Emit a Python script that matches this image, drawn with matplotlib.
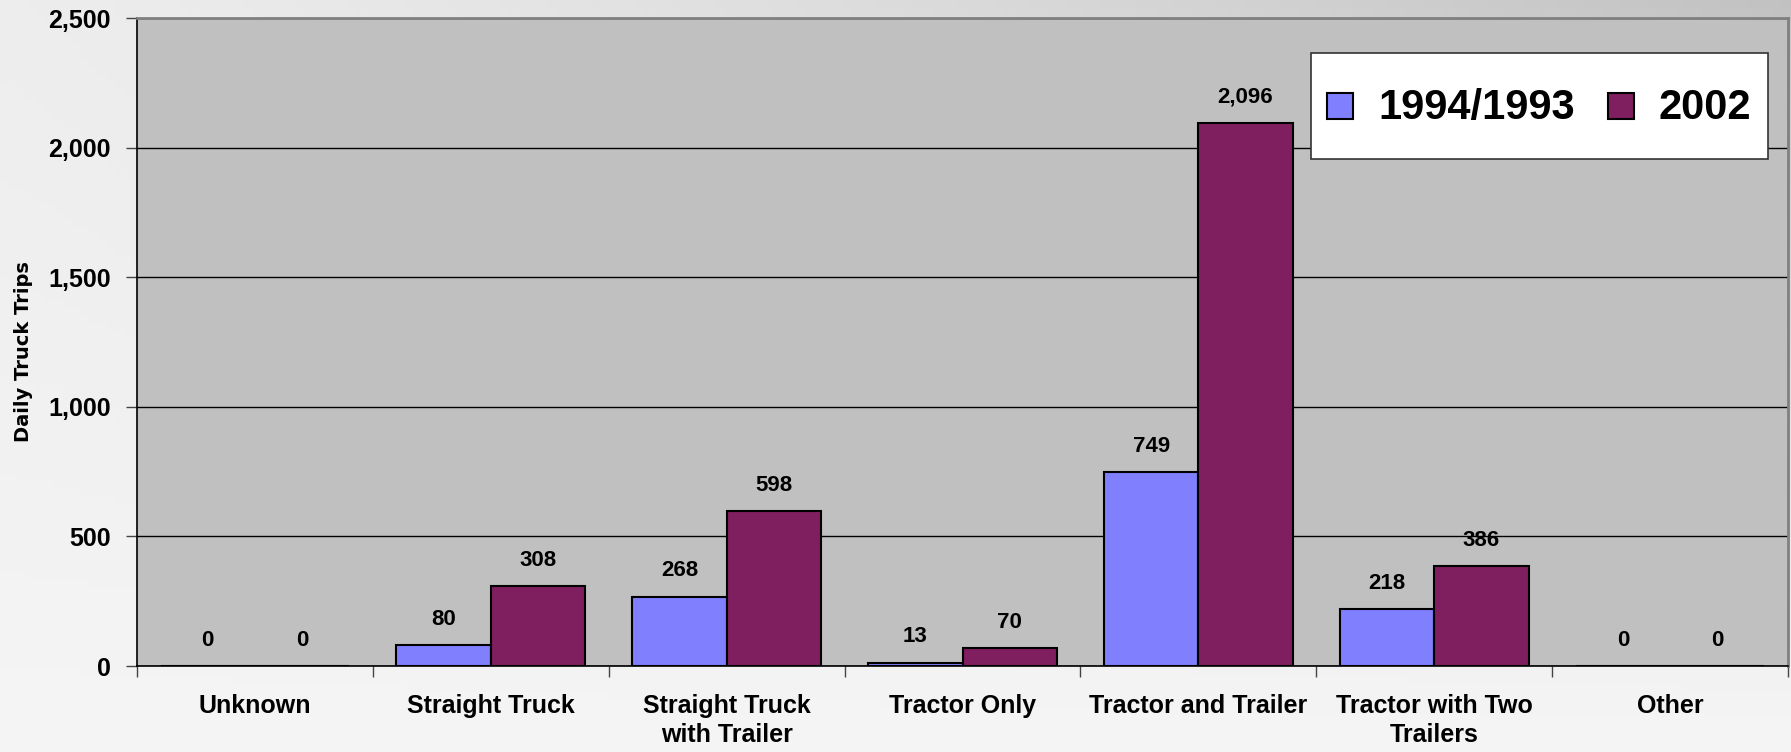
import numpy as np
import matplotlib
matplotlib.use("Agg")
import matplotlib.pyplot as plt
from matplotlib.patches import Rectangle
from matplotlib.container import BarContainer
from matplotlib.legend_handler import HandlerPatch, update_from_first_child

categories = ["Unknown", "Straight Truck", "Straight Truck\nwith Trailer", "Tractor Only",
              "Tractor and Trailer", "Tractor with Two\nTrailers", "Other"]
trips_1994 = [0, 80, 268, 13, 749, 218, 0]
trips_2002 = [0, 308, 598, 70, 2096, 386, 0]
series_names = ["1994/1993", "2002"]
yticks = [0, 500, 1000, 1500, 2000, 2500]

plt.rcParams['font.family'] = ['Liberation Sans', 'DejaVu Sans']
plt.rcParams['font.weight'] = 'bold'

W, H = 1791, 752
fig = plt.figure(figsize=(W / 100, H / 100), dpi=100)

# soft gray backdrop, lighter toward bottom-left, darker toward top-right
bg = fig.add_axes([0, 0, 1, 1], zorder=-10)
cc, rr = np.meshgrid(np.linspace(0, 1, 200), np.linspace(0, 1, 100))
shade = 0.96 - 0.17 * cc ** 1.3 * (1 - rr) ** 1.4 - 0.03 * (1 - rr)
bg.imshow(np.dstack([shade] * 3), aspect='auto', extent=[0, 1, 0, 1], origin='upper')
bg.set_axis_off()

ax = fig.add_axes([137 / W, 1 - 666 / H, (1788 - 137) / W, (666 - 18) / H])
ax.set_facecolor('#c0c0c0')

x = np.arange(len(categories))
bw = 0.4
b1 = ax.bar(x - bw / 2, trips_1994, bw, color='#8080ff', edgecolor='black', linewidth=1.5,
            label=series_names[0], zorder=3)
b2 = ax.bar(x + bw / 2, trips_2002, bw, color='#7f1f5f', edgecolor='black', linewidth=1.5,
            label=series_names[1], zorder=3)

for bars, vals in ((b1, trips_1994), (b2, trips_2002)):
    for rect, v in zip(bars, vals):
        ax.annotate(f"{v:,}", (rect.get_x() + rect.get_width() / 2, v),
                    xytext=(0, 11), textcoords='offset points', ha='center', va='bottom',
                    fontsize=16, fontweight='bold')

ax.set_xlim(-0.5, len(categories) - 0.5)
ax.set_ylim(0, 2500)
ax.set_yticks(yticks)
ax.set_yticklabels([f"{t:,}" for t in yticks], fontsize=18, fontweight='bold')
ax.set_xticks(np.arange(len(categories) + 1) - 0.5)
ax.set_xticklabels([])
ax.set_xticks(x, minor=True)
ax.set_xticklabels(categories, minor=True, fontsize=18, fontweight='bold', linespacing=1.3)
ax.tick_params(axis='x', which='minor', length=0, pad=20)
ax.tick_params(axis='x', which='major', length=8, width=1, color='#444444')
ax.tick_params(axis='y', length=8, width=1, pad=11, color='#444444')
ax.yaxis.grid(True, color='black', linewidth=1)
ax.set_axisbelow(True)
for s in ('top', 'right'):
    ax.spines[s].set_color('#808080')
    ax.spines[s].set_linewidth(2)
for s in ('left', 'bottom'):
    ax.spines[s].set_color('black')
    ax.spines[s].set_linewidth(1.2)

fig.text(24 / W, 1 - 352 / H, "Daily Truck Trips", rotation=90, ha='center', va='center',
         fontsize=14, fontweight='bold', family='DejaVu Sans')


def square_patch(legend, orig_handle, xdescent, ydescent, width, height, fontsize):
    s = 0.62 * fontsize
    return Rectangle((-xdescent + (width - s) / 2, -ydescent + (height - s) / 2), s, s)


leg = ax.legend(loc='upper right', bbox_to_anchor=(1768 / W, 1 - 53 / H),
                bbox_transform=fig.transFigure, ncol=2, frameon=True, fancybox=False,
                prop={'size': 30, 'weight': 'bold'}, handlelength=0.62, handleheight=2.3,
                handletextpad=0.6, columnspacing=0.8, borderpad=0.4, borderaxespad=0,
                handler_map={BarContainer: HandlerPatch(patch_func=square_patch,
                                                        update_func=update_from_first_child)})
leg.get_frame().set_edgecolor('#333333')
leg.get_frame().set_linewidth(1.2)
leg.get_frame().set_facecolor('white')
leg.get_frame().set_alpha(1)

fig.savefig("out.png", dpi=100)
